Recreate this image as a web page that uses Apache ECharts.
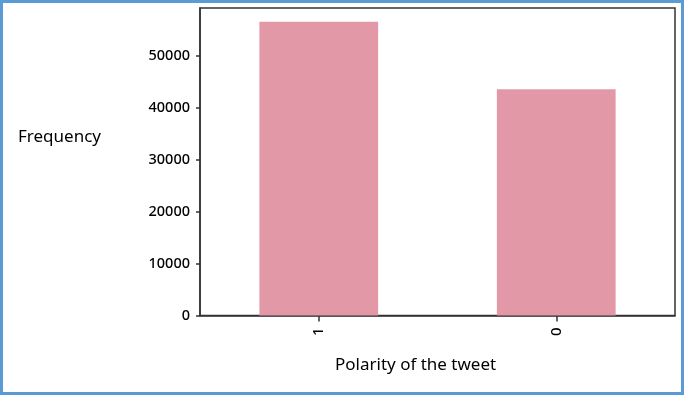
<!DOCTYPE html>
<html>
<head>
<meta charset="utf-8">
<script src="https://cdn.jsdelivr.net/npm/echarts@6/dist/echarts.min.js"></script>
<style>
html,body{margin:0;padding:0;background:#fff;}
#chart{width:685px;height:396px;}
</style>
</head>
<body>
<div id="chart"></div>
<script>
const categories = ['1', '0'];
const frequencies = [56600, 43580];
const yTicks = [0, 10000, 20000, 30000, 40000, 50000];
const yMax = 59250;
const yTitle = 'Frequency';
const xTitle = 'Polarity of the tweet';

const FONT = 'Noto Sans';
const chart = echarts.init(document.getElementById('chart'));
chart.setOption({
  animation: false,
  backgroundColor: '#ffffff',
  grid: {
    left: 200, right: 10, top: 8, bottom: 80.5,
    show: true, borderColor: '#333', borderWidth: 1.5, backgroundColor: 'transparent'
  },
  xAxis: {
    type: 'category',
    data: categories,
    boundaryGap: true,
    axisLine: { show: true, lineStyle: { color: '#333', width: 1.5 } },
    axisTick: { show: true, alignWithLabel: true, length: 6, lineStyle: { color: '#333', width: 1.5 } },
    axisLabel: { rotate: 90, margin: 12, color: '#000', fontFamily: FONT, fontSize: 15, fontWeight: 500 },
    splitLine: { show: false }
  },
  yAxis: {
    type: 'value',
    min: 0,
    max: yMax,
    axisLine: { show: true, lineStyle: { color: '#333', width: 1.5 } },
    axisTick: { show: true, length: 4, customValues: yTicks, lineStyle: { color: '#333', width: 1.5 } },
    axisLabel: {
      customValues: yTicks, margin: 10, color: '#000', fontFamily: FONT, fontSize: 14.5, fontWeight: 500,
      formatter: function (v) { return String(v); }
    },
    splitLine: { show: false }
  },
  series: [{
    type: 'bar',
    data: frequencies,
    barWidth: '50%',
    itemStyle: { color: '#e298a6' }
  }],
  graphic: [
    { type: 'text', left: 18, top: 129, style: { text: yTitle, fontFamily: FONT, fontSize: 17, fill: '#000' } },
    { type: 'text', left: 335, top: 357, style: { text: xTitle, fontFamily: FONT, fontSize: 17, fill: '#000' } },
    { type: 'rect', shape: { x: 1.5, y: 1.5, width: 681, height: 392 }, style: { fill: 'none', stroke: '#5b9bd5', lineWidth: 3 }, silent: true }
  ]
});
</script>
</body>
</html>
